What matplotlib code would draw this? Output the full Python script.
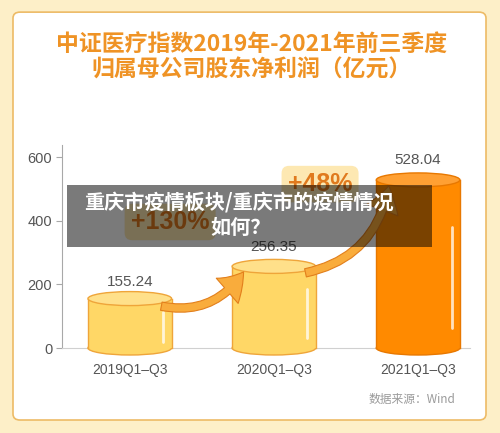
import matplotlib
matplotlib.use("Agg")
import matplotlib.pyplot as plt
from matplotlib.patches import Ellipse, Rectangle, FancyBboxPatch, FancyArrowPatch, ArrowStyle

plt.rcParams["font.family"] = ["Liberation Sans", "Noto Sans CJK SC", "DejaVu Sans"]
CJK = ["Noto Sans CJK SC", "DejaVu Sans"]

# --------------------------------------------------------------------------- #
# Data
# --------------------------------------------------------------------------- #
periods = ["2019Q1–Q3", "2020Q1–Q3", "2021Q1–Q3"]
profits = [155.24, 256.35, 528.04]
growth_labels = ["+130%", "+48%"]
y_ticks = [0, 200, 400, 600]

title_lines = ["中证医疗指数2019年-2021年前三季度", "归属母公司股东净利润（亿元）"]
overlay_lines = ["重庆市疫情板块/重庆市的疫情情况", "如何？"]
source = "数据来源：Wind"

BAR_W = 0.58
EH = 44          # cylinder cap height in data units
ORANGE = "#EF9325"

# --------------------------------------------------------------------------- #
# Figure + panel
# --------------------------------------------------------------------------- #
fig = plt.figure(figsize=(5, 4.33), dpi=100)
fig.patch.set_facecolor("#FDEFC8")

panel = FancyBboxPatch((0.026, 0.030), 0.946, 0.942, transform=fig.transFigure,
                       boxstyle="round,pad=0,rounding_size=0.014",
                       facecolor="white", edgecolor="#EDBB66", lw=1.2, zorder=0)
fig.add_artist(panel)

for i, line in enumerate(title_lines):
    fig.text(0.504, 0.898 - i * 0.060, line, ha="center", va="center",
             fontsize=16.5, fontweight="heavy", color=ORANGE, family=CJK)

ax = fig.add_axes([0.124, 0.1963, 0.816, 0.469])
ax.set_facecolor("none")
ax.set_xlim(-0.47, 2.36)
ax.set_ylim(0, 638)
ax.set_yticks(y_ticks)
ax.set_xticks(range(len(periods)))
ax.set_xticklabels(periods)
for s in ["top", "right"]:
    ax.spines[s].set_visible(False)
ax.spines["left"].set_color("#A8A8A8")
ax.spines["bottom"].set_color("#D0D0D0")
ax.tick_params(axis="y", colors="#A8A8A8", labelcolor="#555555", labelsize=10.5,
               length=4, pad=3)
ax.tick_params(axis="x", length=0, labelcolor="#555555", labelsize=10, pad=11)


def cylinder(x, h, body, top, edge):
    w = BAR_W
    ax.add_patch(Ellipse((x, 0), w, EH, facecolor=body, edgecolor=edge, lw=1,
                         zorder=3, clip_on=False))
    ax.add_patch(Rectangle((x - w / 2, 0), w, h, facecolor=body, edgecolor="none",
                           zorder=3.1, clip_on=False))
    ax.plot([x - w / 2] * 2, [0, h], color=edge, lw=1, zorder=3.2, clip_on=False)
    ax.plot([x + w / 2] * 2, [0, h], color=edge, lw=1, zorder=3.2, clip_on=False)
    # glossy highlight
    ax.plot([x + w * 0.4] * 2, [h * 0.12, h * 0.72], color="white", lw=2,
            alpha=0.75, solid_capstyle="round", zorder=3.3)
    ax.add_patch(Ellipse((x, h), w, EH, facecolor=top, edgecolor=edge, lw=1,
                         zorder=3.4, clip_on=False))


styles = [("#FFD766", "#FFE08A", "#EFA53A"),
          ("#FFD766", "#FFE08A", "#EFA53A"),
          ("#FF8A00", "#FFA033", "#E87800")]
for i, (v, st) in enumerate(zip(profits, styles)):
    cylinder(i, v, *st)
    ax.annotate(f"{v:.2f}", (i, v), xytext=(0, 7 if i == 0 else 9),
                textcoords="offset points", ha="center", va="bottom",
                fontsize=11, color="#555555", zorder=5)

# growth arrows between cylinder tops
arrow_style = ArrowStyle.Simple(head_length=18, head_width=24, tail_width=6)
for i in range(len(profits) - 1):
    start = (i + 0.2, profits[i] - 22)
    end = (i + 0.8, profits[i + 1] - 10)
    arr = FancyArrowPatch(start, end, arrowstyle=arrow_style, mutation_scale=1,
                          connectionstyle="arc3,rad=0.35", facecolor="#F9AC3C",
                          edgecolor="#E27F1C", lw=0.8, zorder=6)
    ax.add_patch(arr)

label_pos = [(0.28, 396), (1.32, 515)]
for lbl, (lx, ly) in zip(growth_labels, label_pos):
    ax.text(lx, ly, lbl, ha="center", va="center", fontsize=18, fontweight="bold",
            color="#E07A1E", zorder=2,
            bbox=dict(boxstyle="round,pad=0.25,rounding_size=0.3",
                      facecolor="#FDE8B2", edgecolor="none"))

fig.text(0.91, 1 - 399 / 433, source, ha="right", va="center",
         fontsize=8.5, color="#9A9A9A", family=CJK)

# dark caption overlay
fig.add_artist(Rectangle((0.134, 0.4296), 0.73, 0.1432, transform=fig.transFigure,
                         facecolor="black", alpha=0.52, edgecolor="none", zorder=10))
fig.text(0.478, 1 - 203 / 433, overlay_lines[0], ha="center", va="center",
         fontsize=14.5, fontweight="bold", color="white", family=CJK, zorder=11)
fig.text(0.482, 1 - 227 / 433, overlay_lines[1], ha="center", va="center",
         fontsize=14.5, fontweight="bold", color="white", family=CJK, zorder=11)

fig.savefig("out.png", dpi=100, facecolor=fig.get_facecolor())
